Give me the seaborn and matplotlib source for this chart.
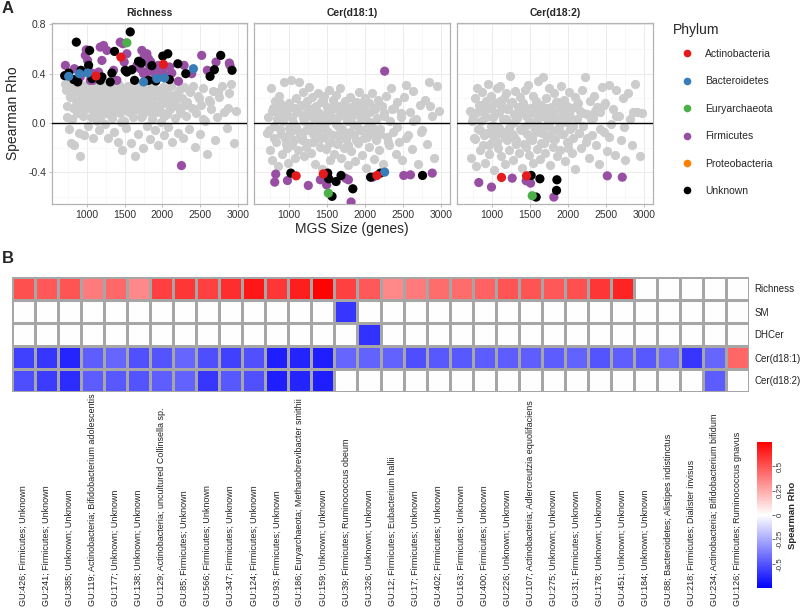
import numpy as np
import pandas as pd
import matplotlib.pyplot as plt
import matplotlib.transforms as mtransforms
from matplotlib.lines import Line2D
from matplotlib.ticker import FixedLocator
import seaborn as sns

sns.set_theme(style="white")
plt.rcParams['font.family'] = ['Liberation Sans', 'DejaVu Sans']
plt.rcParams['axes.unicode_minus'] = False

# ---- Panel A: MGS size vs Spearman rho ----
# non-significant MGS (grey), x shared across the three traits
gray_x = [
    705, 728, 742, 760, 771, 788, 795, 812, 826, 838,
    850, 866, 879, 892, 905, 918, 931, 944, 958, 967,
    979, 990, 1003, 1012, 1027, 1036, 1049, 1061, 1072, 1085,
    1094, 1108, 1117, 1131, 1142, 1155, 1163, 1178, 1189, 1201,
    1212, 1226, 1238, 1247, 1259, 1270, 1284, 1293, 1306, 1318,
    1327, 1339, 1352, 1361, 1374, 1386, 1395, 1408, 1419, 1431,
    1440, 1453, 1465, 1477, 1486, 1498, 1509, 1521, 1533, 1542,
    1556, 1567, 1578, 1590, 1601, 1613, 1622, 1636, 1647, 1659,
    1668, 1680, 1693, 1702, 1715, 1727, 1738, 1750, 1761, 1772,
    1784, 1796, 1807, 1819, 1830, 1843, 1852, 1865, 1877, 1888,
    1899, 1912, 1924, 1935, 1947, 1958, 1971, 1983, 1994, 2007,
    2019, 2032, 2046, 2058, 2071, 2085, 2098, 2112, 2127, 2141,
    2156, 2172, 2188, 2203, 2221, 2238, 2256, 2274, 2291, 2310,
    2328, 2347, 2366, 2387, 2405, 2426, 2448, 2469, 2491, 2514,
    2537, 2561, 2586, 2612, 2638, 2665, 2694, 2723, 2752, 2784,
    2815, 2848, 2880, 2912, 2944, 2968, 1004, 1498, 1752, 2003,
    732, 778, 803, 845, 873, 897, 925, 952, 985, 1018,
    1043, 1066, 1101, 1124, 1149, 1171, 1195, 1219, 1243, 1266,
    1289, 1313, 1346, 1368, 1391, 1414, 1447, 1471, 1503, 1527,
    1561, 1584, 1607, 1642, 1664, 1689, 1721, 1744, 1778, 1802,
    1836, 1859, 1883, 1917, 1952, 1988, 2025, 2064, 2105, 2149,
    2195, 2246, 2297, 2356, 2416, 2478, 2542, 2628, 2737, 2862]

gray_richness = [
    0.32, 0.27, 0.05, -0.05, 0.22, -0.16, 0.30, 0.12, -0.18, 0.25,
    0.18, 0.08, 0.28, -0.08, -0.27, 0.20, 0.31, 0.10, 0.26, -0.10,
    0.15, 0.30, 0.22, -0.02, 0.12, 0.28, 0.05, 0.19, 0.31, -0.12,
    0.09, 0.24, 0.16, 0.02, 0.29, 0.20, -0.06, 0.13, 0.27, 0.07,
    0.21, 0.32, -0.01, 0.17, 0.25, 0.10, -0.12, 0.29, 0.14, 0.22,
    0.04, 0.30, 0.18, -0.07, 0.26, 0.11, 0.20, -0.15, 0.31, 0.08,
    0.23, 0.15, -0.22, 0.28, 0.02, 0.19, 0.25, -0.04, 0.13, 0.30,
    0.09, 0.21, -0.16, 0.27, 0.17, 0.05, 0.24, -0.27, 0.12, 0.29,
    0.19, -0.09, 0.31, 0.14, 0.22, 0.06, -0.20, 0.26, 0.16, 0.10,
    0.28, -0.02, 0.20, 0.12, -0.13, 0.25, 0.18, 0.03, 0.30, 0.15,
    -0.06, 0.22, 0.09, 0.27, -0.18, 0.13, 0.24, 0.01, 0.19, 0.29,
    -0.10, 0.16, 0.26, 0.07, -0.03, 0.21, 0.11, 0.30, -0.15, 0.18,
    0.23, 0.04, 0.14, -0.08, 0.27, 0.10, 0.20, -0.12, 0.29, 0.06,
    0.17, -0.05, 0.25, 0.12, 0.30, -0.19, 0.08, 0.22, -0.09, 0.15,
    0.28, 0.02, -0.25, 0.19, 0.11, 0.26, -0.14, 0.05, 0.21, 0.30,
    0.09, -0.04, 0.24, 0.32, -0.16, 0.10, 0.18, 0.22, 0.14, 0.08,
    0.14, 0.21, 0.03, 0.26, 0.17, 0.11, 0.24, 0.06, 0.19, 0.28,
    0.13, 0.22, 0.09, 0.18, 0.25, 0.04, 0.16, 0.23, 0.12, 0.27,
    0.07, 0.20, 0.15, 0.29, 0.10, 0.24, 0.01, 0.18, 0.13, 0.22,
    0.26, 0.08, 0.17, 0.23, 0.11, 0.28, 0.05, 0.20, 0.14, 0.25,
    0.09, 0.19, 0.27, 0.12, 0.21, 0.16, 0.06, 0.24, 0.13, 0.18,
    0.23, 0.08, 0.15, 0.27, 0.11, 0.20, 0.03, 0.17, 0.25, 0.12]

gray_cer1 = [
    -0.08, 0.05, -0.22, 0.28, -0.30, 0.12, -0.02, 0.18, -0.15, 0.08,
    -0.35, 0.22, -0.05, 0.14, -0.25, 0.02, 0.33, -0.12, 0.10, -0.20,
    0.06, -0.32, 0.16, -0.08, 0.35, -0.18, 0.01, 0.12, -0.28, 0.20,
    -0.03, 0.09, -0.22, 0.33, -0.10, 0.15, -0.14, 0.04, 0.25, -0.27,
    0.07, -0.06, 0.18, -0.16, 0.29, -0.02, 0.11, -0.24, 0.21, -0.09,
    0.03, -0.33, 0.14, -0.12, 0.24, -0.04, 0.08, -0.19, 0.17, -0.37,
    0.01, 0.22, -0.11, 0.06, -0.21, 0.13, -0.07, 0.27, -0.30, 0.09,
    -0.15, 0.03, 0.19, -0.25, 0.12, -0.01, 0.23, -0.17, 0.05, -0.09,
    0.28, -0.28, 0.15, -0.05, 0.08, -0.20, 0.18, -0.13, 0.02, -0.34,
    0.11, -0.07, 0.21, -0.23, 0.06, 0.14, -0.10, -0.31, 0.17, -0.02,
    0.09, -0.16, 0.25, -0.06, 0.03, -0.26, 0.13, -0.12, 0.20, -0.36,
    0.07, -0.04, 0.16, -0.19, 0.01, 0.24, -0.09, -0.29, 0.11, -0.14,
    0.04, 0.19, -0.22, -0.05, 0.14, -0.33, 0.08, 0.22, -0.11, -0.18,
    0.02, 0.28, -0.07, 0.12, -0.25, 0.17, -0.15, 0.05, -0.30, 0.21,
    0.31, -0.10, 0.09, -0.21, 0.26, 0.03, -0.33, 0.15, -0.06, 0.19,
    -0.17, 0.33, 0.06, -0.28, 0.30, 0.10, -0.04, 0.02, -0.13, 0.07,
    -0.06, 0.10, -0.12, 0.03, 0.16, -0.09, 0.07, -0.17, 0.12, -0.03,
    0.05, -0.14, 0.09, -0.07, 0.14, -0.11, 0.02, -0.19, 0.11, -0.04,
    0.06, -0.15, 0.13, -0.08, 0.01, -0.12, 0.18, -0.05, 0.08, -0.16,
    0.04, -0.10, 0.15, -0.02, -0.13, 0.10, -0.07, 0.05, -0.18, 0.12,
    -0.01, 0.07, -0.14, 0.16, -0.06, 0.03, -0.11, 0.09, -0.04, 0.13,
    -0.09, 0.06, -0.15, 0.11, -0.03, 0.08, -0.12, 0.02, -0.07, 0.14]

gray_cer2 = [
    0.10, -0.28, 0.05, -0.12, 0.20, -0.35, 0.28, -0.05, 0.15, -0.22,
    0.02, 0.25, -0.18, 0.08, -0.32, 0.18, -0.08, 0.32, -0.25, 0.12,
    -0.02, 0.22, -0.15, 0.05, -0.38, 0.16, -0.10, 0.28, -0.20, 0.09,
    -0.04, 0.30, -0.27, 0.14, -0.07, 0.20, -0.33, 0.03, 0.24, -0.14,
    0.11, -0.22, 0.38, -0.01, 0.17, -0.30, 0.07, -0.11, 0.26, -0.17,
    0.04, 0.13, -0.24, 0.21, -0.06, 0.09, -0.36, 0.16, -0.03, 0.27,
    -0.19, 0.06, -0.09, 0.31, -0.26, 0.12, 0.01, -0.14, 0.22, -0.32,
    0.08, -0.05, 0.18, -0.21, 0.34, -0.02, 0.10, -0.29, 0.15, -0.08,
    0.37, -0.16, 0.05, -0.24, 0.20, -0.11, 0.02, 0.28, -0.34, 0.13,
    -0.06, 0.09, -0.19, 0.24, -0.13, 0.04, -0.27, 0.17, -0.03, 0.11,
    -0.22, 0.30, 0.06, -0.09, 0.19, -0.31, 0.01, 0.14, -0.16, 0.08,
    0.25, -0.05, -0.24, 0.12, -0.12, 0.21, -0.37, 0.03, 0.16, -0.08,
    0.10, -0.20, 0.27, -0.02, 0.37, -0.15, 0.07, -0.28, 0.18, -0.10,
    0.04, 0.22, -0.18, 0.13, -0.33, 0.09, 0.29, -0.07, 0.16, -0.23,
    0.31, -0.01, 0.11, -0.26, 0.27, 0.06, -0.14, 0.20, -0.30, 0.24,
    0.03, -0.18, 0.32, 0.09, -0.27, 0.08, -0.09, -0.12, 0.00, -0.20,
    0.02, -0.13, 0.09, -0.06, 0.15, -0.10, 0.05, -0.18, 0.12, -0.02,
    0.07, -0.15, 0.18, -0.08, 0.03, -0.12, 0.11, -0.04, 0.16, -0.09,
    0.01, -0.14, 0.08, -0.05, 0.13, -0.17, 0.06, -0.01, 0.10, -0.11,
    0.14, -0.07, 0.04, -0.16, 0.09, -0.03, 0.12, -0.10, 0.07, -0.13,
    0.17, -0.06, 0.02, -0.09, 0.11, -0.15, 0.05, -0.02, 0.14, -0.08,
    0.08, -0.12, 0.03, 0.10, -0.05, 0.15, -0.11, 0.06, -0.03, 0.09]

# significant MGS, phylum codes: F Firmicutes, U Unknown, B Bacteroidetes, A Actinobacteria, E Euryarchaeota
rich_x = [714, 833, 912, 978, 991, 1009, 1066, 1079, 1154, 1176,
          1198, 1220, 1264, 1352, 1396, 1440, 1475, 1493, 1528, 1727,
          1758, 1793, 1815, 1828, 1859, 1881, 1912, 1947, 1969, 2013,
          2035, 2092, 2123, 2211, 2286, 2387, 2519, 2594, 2709, 2885,
          2894, 2251, 1044, 1661, 1705, 1749, 1793, 1846,
          859, 1573, 705, 758, 824, 877, 921, 1022, 1035, 1066,
          1176, 1198, 1308, 1330, 1365, 1506, 1528, 1595, 1630, 1683,
          1718, 1815, 1859, 1912, 2004, 2070, 2092, 2203, 2308, 2630,
          2687, 2771, 2921,
          758, 899, 1009, 1749, 1925, 2026, 2409,
          1119, 1449, 2013,
          1528]
rich_y = [0.467, 0.44, 0.373, 0.548, 0.593, 0.507, 0.405, 0.346, 0.413, 0.615,
          0.507, 0.628, 0.588, 0.427, 0.346, 0.655, 0.642, 0.494, 0.561, 0.588,
          0.54, 0.561, 0.52, 0.467, 0.44, 0.413, 0.387, 0.467, 0.427, 0.4,
          0.454, 0.454, 0.405, 0.338, 0.467, 0.4, 0.548, 0.427, 0.494, 0.486,
          0.467, -0.344, 0.346, 0.467, 0.44, 0.4, 0.413, 0.494,
          0.655, 0.738, 0.384, 0.405, 0.352, 0.333, 0.427, 0.467, 0.588, 0.36,
          0.346, 0.373, 0.333, 0.405, 0.58, 0.427, 0.413, 0.432, 0.346, 0.5,
          0.486, 0.346, 0.465, 0.341, 0.542, 0.561, 0.352, 0.48, 0.4, 0.378,
          0.432, 0.548, 0.427,
          0.378, 0.4, 0.405, 0.333, 0.36, 0.365, 0.44,
          0.381, 0.534, 0.475,
          0.65]
rich_phy = "F" * 48 + "U" * 33 + "B" * 7 + "A" * 3 + "E"

cer1_x = [2258, 823, 810, 978, 1252, 1411, 1494, 1521, 1742, 1781, 1816, 2104, 2510, 2598, 2885,
          1022, 1508, 1521, 1618, 1684, 1839, 1565, 2073, 2201, 2757,
          2258, 1092, 1450, 2157, 1516]
cer1_y = [0.42, -0.413, -0.478, -0.465, -0.505, -0.459, -0.5, -0.454, -0.446, -0.459, -0.639,
          -0.438, -0.424, -0.419, -0.405,
          -0.405, -0.405, -0.451, -0.473, -0.424, -0.532, -0.593, -0.438, -0.405, -0.424,
          -0.397, -0.427, -0.411, -0.424, -0.567]
cer1_phy = "F" * 15 + "U" * 10 + "B" + "AAA" + "E"

cer2_x = [824, 991, 1264, 1448, 1506, 1813, 2517, 2714,
          1514, 1629, 1853, 1848, 1580, 1123, 1453, 1528]
cer2_y = [-0.481, -0.518, -0.446, -0.467, -0.486, -0.599, -0.427, -0.438,
          -0.424, -0.451, -0.459, -0.545, -0.599, -0.44, -0.427, -0.588]
cer2_phy = "F" * 8 + "U" * 5 + "AA" + "E"

phylum_names = {"A": "Actinobacteria", "B": "Bacteroidetes", "E": "Euryarchaeota",
                "F": "Firmicutes", "P": "Proteobacteria", "U": "Unknown"}
phylum_colors = {"Actinobacteria": "#E41A1C", "Bacteroidetes": "#377EB8",
                 "Euryarchaeota": "#4DAF4A", "Firmicutes": "#984EA3",
                 "Proteobacteria": "#FF7F00", "Unknown": "#000000"}

facets = [("Richness", gray_richness, rich_x, rich_y, rich_phy),
          ("Cer(d18:1)", gray_cer1, cer1_x, cer1_y, cer1_phy),
          ("Cer(d18:2)", gray_cer2, cer2_x, cer2_y, cer2_phy)]

# ---- Panel B: heatmap ----
mgs_labels = [
    "GU:426; Firmicutes; Unknown", "GU:241; Firmicutes; Unknown", "GU:385; Unknown; Unknown",
    "GU:119; Actinobacteria; Bifidobacterium adolescentis", "GU:177; Unknown; Unknown",
    "GU:138; Unknown; Unknown", "GU:129; Actinobacteria; uncultured Collinsella sp.",
    "GU:85; Firmicutes; Unknown", "GU:566; Firmicutes; Unknown", "GU:347; Firmicutes; Unknown",
    "GU:124; Firmicutes; Unknown", "GU:93; Firmicutes; Unknown",
    "GU:186; Euryarchaeota; Methanobrevibacter smithii", "GU:159; Unknown; Unknown",
    "GU:39; Firmicutes; Ruminococcus obeum", "GU:326; Unknown; Unknown",
    "GU:12; Firmicutes; Eubacterium hallii", "GU:17; Firmicutes; Unknown",
    "GU:402; Firmicutes; Unknown", "GU:163; Firmicutes; Unknown", "GU:400; Firmicutes; Unknown",
    "GU:226; Unknown; Unknown", "GU:107; Actinobacteria; Adlercreutzia equolifaciens",
    "GU:275; Unknown; Unknown", "GU:31; Firmicutes; Unknown", "GU:178; Unknown; Unknown",
    "GU:451; Unknown; Unknown", "GU:184; Unknown; Unknown",
    "GU:88; Bacteroidetes; Alistipes indistinctus", "GU:218; Firmicutes; Dialister invisus",
    "GU:234; Actinobacteria; Bifidobacterium bifidum", "GU:126; Firmicutes; Ruminococcus gnavus"]
traits = ["Richness", "SM", "DHCer", "Cer(d18:1)", "Cer(d18:2)"]

rho_richness = [0.51, 0.49, 0.50, 0.39, 0.44, 0.35, 0.56, 0.59, 0.56, 0.61, 0.68, 0.59, 0.66, 0.74,
                0.56, 0.49, 0.35, 0.39, 0.43, 0.43, 0.46, 0.50, 0.50, 0.49, 0.51, 0.59, 0.64,
                0, 0, 0, 0, 0]
rho_sm = [0] * 14 + [-0.59] + [0] * 17
rho_dhcer = [0] * 15 + [-0.60] + [0] * 16
rho_cer1 = [-0.56, -0.59, -0.64, -0.47, -0.45, -0.51, -0.50, -0.45, -0.52, -0.56, -0.51, -0.66,
            -0.64, -0.66, -0.45, -0.46, -0.46, -0.52, -0.49, -0.49, -0.48, -0.48, -0.47, -0.48,
            -0.46, -0.50, -0.47, -0.49, -0.44, -0.59, -0.45, 0.45]
rho_cer2 = [-0.52, -0.57, -0.62, -0.48, -0.49, -0.50, -0.47, -0.46, -0.59, -0.49, -0.51, -0.66,
            -0.64, -0.66] + [0] * 16 + [-0.48, 0]

W, H = 800, 609
fig = plt.figure(figsize=(W / 100, H / 100), dpi=100)


def box(x0, y0, x1, y1):
    return [x0 / W, 1 - y1 / H, (x1 - x0) / W, (y1 - y0) / H]


panel_px = [(52, 247), (254, 450), (457, 653)]
axes = []
for i, ((name, gy, sx, sy, sp), (px0, px1)) in enumerate(zip(facets, panel_px)):
    ax = fig.add_axes(box(px0, 23, px1, 204))
    axes.append(ax)
    ax.set_xlim(537, 3119)
    ax.set_ylim(-0.655, 0.81)
    ax.xaxis.set_major_locator(FixedLocator([1000, 1500, 2000, 2500, 3000]))
    ax.xaxis.set_minor_locator(FixedLocator([750, 1250, 1750, 2250, 2750]))
    ax.yaxis.set_major_locator(FixedLocator([-0.4, 0.0, 0.4, 0.8]))
    ax.yaxis.set_minor_locator(FixedLocator([-0.6, -0.2, 0.2, 0.6]))
    ax.grid(True, which='major', color='#EBEBEB', lw=0.7, zorder=0)
    ax.grid(True, which='minor', color='#F4F4F4', lw=0.4, zorder=0)
    ax.set_axisbelow(True)
    for s in ax.spines.values():
        s.set_color('#B3B3B3')
        s.set_linewidth(0.9)

    gdf = pd.DataFrame({"size": gray_x, "rho": gy})
    sns.scatterplot(data=gdf, x="size", y="rho", ax=ax, color="#CCCCCC", s=44,
                    linewidth=0, legend=False, zorder=2)
    sdf = pd.DataFrame({"size": sx, "rho": sy, "Phylum": [phylum_names[c] for c in sp]})
    sns.scatterplot(data=sdf, x="size", y="rho", hue="Phylum", palette=phylum_colors,
                    ax=ax, s=44, linewidth=0, legend=False, zorder=3)
    ax.axhline(0, color='black', lw=1.0, zorder=4)

    ax.set_title(name, fontsize=7.5, fontweight='bold', pad=5)
    ax.set_xlabel("")
    ax.set_ylabel("")
    ax.tick_params(axis='x', which='major', length=2.5, width=0.6, colors='#B3B3B3',
                   labelcolor='#333333', labelsize=7.5, pad=1.5, bottom=True)
    if i == 0:
        ax.set_yticklabels(["-0.4", "0.0", "0.4", "0.8"])
        ax.tick_params(axis='y', which='major', length=2.5, width=0.6, colors='#B3B3B3',
                       labelcolor='#333333', labelsize=7.5, pad=1.5, left=True)
        ax.set_ylabel("Spearman Rho", fontsize=10)
        ax.yaxis.set_label_coords(-0.165, 0.5)
    else:
        ax.tick_params(axis='y', labelleft=False, left=False)
    ax.tick_params(which='minor', length=0)

axes[1].set_xlabel("MGS Size (genes)", fontsize=10, labelpad=2)

# phylum legend (title as separate text so the spacing matches)
handles = [Line2D([0], [0], marker='o', linestyle='', markersize=5.5,
                  markerfacecolor=c, markeredgewidth=0, label=n)
           for n, c in phylum_colors.items()]
fig.text(673 / W, 1 - 30 / H, "Phylum", fontsize=10, va='center', ha='left')
fig.legend(handles=handles, loc='upper left', bbox_to_anchor=(681 / W, 1 - 49 / H),
           frameon=False, fontsize=7.5, labelspacing=1.67, handlelength=1.2,
           handletextpad=1.1, borderpad=0, borderaxespad=0)

fig.text(2 / W, 1 - 1 / H, "A", fontsize=12, fontweight='bold', va='top')
fig.text(2 / W, 1 - 251 / H, "B", fontsize=12, fontweight='bold', va='top')

# heatmap
hm = pd.DataFrame([rho_richness, rho_sm, rho_dhcer, rho_cer1, rho_cer2],
                  index=traits, columns=mgs_labels)
hax = fig.add_axes(box(12, 277, 749, 392))
cax = fig.add_axes(box(757, 442, 772, 588))
sns.heatmap(hm, ax=hax, cmap='bwr', vmin=-0.75, vmax=0.75, linewidths=0.8,
            linecolor='#A6A6A6', cbar_ax=cax, xticklabels=False, yticklabels=True)
hax.set_xlabel("")
hax.set_ylabel("")
hax.yaxis.tick_right()
hax.tick_params(axis='y', length=0, labelsize=7, labelrotation=0, pad=4, labelcolor='#222222')
for s in hax.spines.values():
    s.set_visible(False)

trans = mtransforms.blended_transform_factory(hax.transData, fig.transFigure)
for j, lab in enumerate(mgs_labels):
    hax.text(j + 0.5, 1 - 606 / H, lab, transform=trans, rotation=90,
             ha='center', va='bottom', fontsize=6.5, color='#222222')

cax.set_yticks([-0.5, -0.25, 0, 0.25, 0.5])
cax.set_yticklabels(["-0.5", "-0.25", "0", "0.25", "0.5"], rotation=90, va='center')
cax.tick_params(axis='y', length=2, width=0.6, colors='#555555', labelsize=5.8,
                labelcolor='#333333', pad=1.5, right=True)
for s in cax.spines.values():
    s.set_visible(False)
cax.set_ylabel("Spearman Rho", fontsize=6.8, fontweight='bold', labelpad=3)
cax.yaxis.set_label_position('right')

fig.savefig("out.png", dpi=100)
